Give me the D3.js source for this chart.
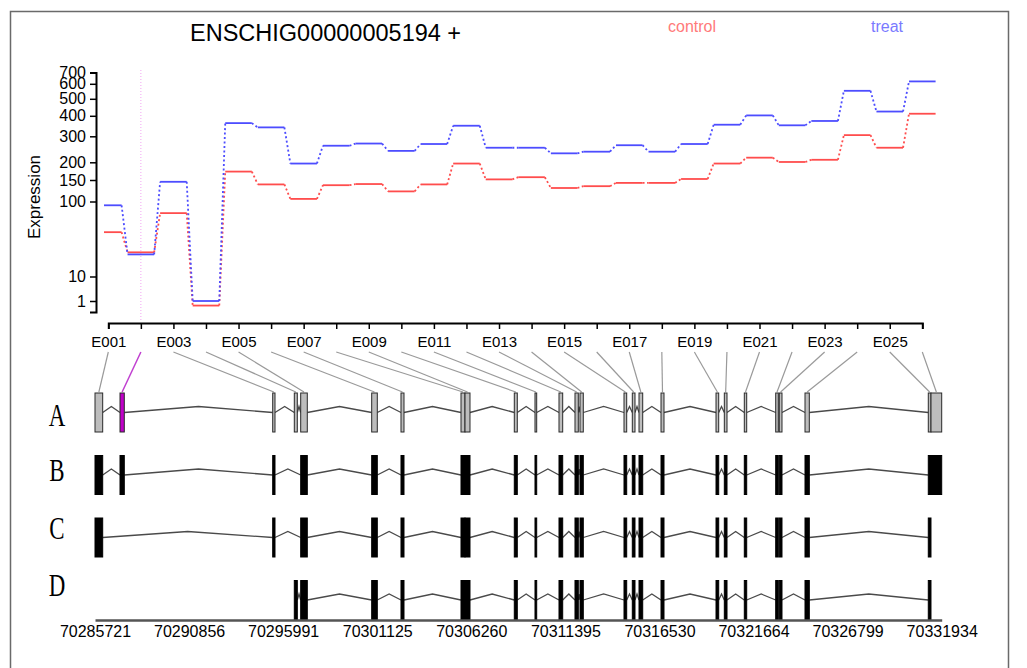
<!DOCTYPE html>
<html>
<head>
<meta charset="utf-8">
<script src="https://cdn.jsdelivr.net/npm/d3@7.9.0/dist/d3.min.js"></script>
<style>
  body { margin: 0; background: #fff; }
  svg { display: block; font-family: "Liberation Sans", Arial, sans-serif; }
</style>
</head>
<body>
<svg id="chart" width="1027" height="668"></svg>
<script>
// ---- data ----
const geneName = "ENSCHIG00000005194 +";
const conditions = ["control", "treat"];
const exonIds = ["E001","E002","E003","E004","E005","E006","E007","E008","E009","E010","E011","E012","E013",
                 "E014","E015","E016","E017","E018","E019","E020","E021","E022","E023","E024","E025","E026"];
const controlExpr = [39, 21, 70, 0.75, 172, 138, 105, 136, 139, 121, 138, 196, 151.5,
                     157, 129, 133.5, 142, 142, 152.5, 196, 215, 201, 208, 305, 251, 411];
const treatExpr = [89, 19.7, 145, 1.0, 361, 340, 196, 259, 268, 239, 266, 348, 251,
                   251, 230, 236, 261, 236, 266, 353, 402, 350, 372, 551, 423, 620];
const highlightExon = "E002";

// exon bin genomic coordinates
const exonStart = [70285721, 70287086, 70295420, 70296599, 70296948, 70300823, 70302422, 70305697, 70305916,
                   70308606, 70309736, 70311046, 70311919, 70312192, 70314594, 70315047, 70315413, 70316614,
                   70319616, 70320069, 70321160, 70322874, 70323070, 70324473, 70331202, 70331350];
const exonEnd = [70286141, 70287320, 70295545, 70296763, 70297308, 70301129, 70302586, 70305915, 70306188,
                 70308770, 70309829, 70311248, 70312100, 70312372, 70314741, 70315194, 70315615, 70316777,
                 70319763, 70320216, 70321291, 70323016, 70323217, 70324708, 70331349, 70331934];

// transcripts (exon bins they contain)
const trackNames = ["A", "B", "C", "D"];
const transcriptB = exonIds.filter(e => e !== "E004");
const transcriptC = exonIds.filter(e => !["E002", "E004", "E026"].includes(e));
const transcriptD = exonIds.filter(e => !["E001", "E002", "E003", "E026"].includes(e));

const yTicks = [1, 10, 100, 150, 200, 300, 400, 500, 600, 700];
const genomeTicks = [70285721, 70290856, 70295991, 70301125, 70306260,
                     70311395, 70316530, 70321664, 70326799, 70331934];

// ---- drawing ----
const colors = { control: "#ff4d4d", treat: "#4d4dff" };
const legendColors = { control: "#ff7a7a", treat: "#7a7aff" };

const svg = d3.select("#chart");

// frame
svg.append("path")
  .attr("d", "M10.5,700V11.5H1008.5V700")
  .attr("fill", "none")
  .attr("stroke", "#6a6a6a")
  .attr("stroke-width", 1.5);

// title + legend
svg.append("text")
  .attr("x", 190).attr("y", 41)
  .attr("font-size", 23.5)
  .text(geneName);

const legendX = { control: 692, treat: 887 };
conditions.forEach(c => {
  svg.append("text")
    .attr("x", legendX[c]).attr("y", 32)
    .attr("text-anchor", "middle")
    .attr("font-size", 16)
    .attr("fill", legendColors[c])
    .text(c);
});

// y scale: uneven axis, interpolated in log space between tick positions
const yKnots = [0.5, ...yTicks];
const yKnotPx = [312, 301, 276.5, 201.5, 180, 162.3, 136.3, 115.8, 98.8, 83.8, 72.6];
const yScale = d3.scaleLinear().domain(yKnots.map(Math.log10)).range(yKnotPx);
const y = v => yScale(Math.log10(v));

const x = d3.scalePoint().domain(exonIds).range([108.3, 922.3]);
const halfW = 13.3;

// y axis
const yAxis = svg.append("g")
  .attr("transform", "translate(96,0)")
  .call(d3.axisLeft(yScale)
    .tickValues(yTicks.map(Math.log10))
    .tickFormat(d => Math.round(Math.pow(10, d)))
    .tickSize(6)
    .tickPadding(4));
yAxis.select(".domain").attr("stroke-width", 2);
yAxis.selectAll(".tick line").attr("stroke-width", 1.5);
yAxis.selectAll("text").attr("font-size", 16).attr("fill", "#000").attr("font-family", "Liberation Sans, Arial, sans-serif");

svg.append("text")
  .attr("transform", "translate(40,197) rotate(-90)")
  .attr("text-anchor", "middle")
  .attr("font-size", 17)
  .text("Expression");

// x axis with exon bins
const xAxis = svg.append("g")
  .attr("transform", "translate(0,323)")
  .call(d3.axisBottom(x)
    .tickSize(6)
    .tickPadding(7)
    .tickFormat((d, i) => i % 2 === 0 ? d : ""));
xAxis.select(".domain").attr("stroke-width", 2);
xAxis.selectAll(".tick line").attr("stroke-width", 1.5);
xAxis.selectAll("text").attr("font-size", 15).attr("fill", "#000").attr("font-family", "Liberation Sans, Arial, sans-serif");

// highlighted bin marker
svg.append("line")
  .attr("x1", x(highlightExon)).attr("x2", x(highlightExon))
  .attr("y1", 70).attr("y2", 322)
  .attr("stroke", "#f2a6f2")
  .attr("stroke-width", 1)
  .attr("stroke-dasharray", "1,2");

// expression steps
svg.append("clipPath").attr("id", "plotClip")
  .append("rect").attr("x", 104).attr("y", 60).attr("width", 840).attr("height", 260);

const plot = svg.append("g").attr("clip-path", "url(#plotClip)");

const series = [
  { name: "control", values: controlExpr },
  { name: "treat", values: treatExpr }
];

series.forEach(s => {
  const pts = exonIds.map((id, i) => ({ id, v: s.values[i] }));
  plot.selectAll(null)
    .data(pts)
    .join("line")
    .attr("x1", d => x(d.id) - halfW)
    .attr("x2", d => x(d.id) + halfW)
    .attr("y1", d => y(d.v))
    .attr("y2", d => y(d.v))
    .attr("stroke", colors[s.name])
    .attr("stroke-width", 1.8);

  plot.selectAll(null)
    .data(d3.pairs(pts))
    .join("line")
    .attr("x1", d => x(d[0].id) + halfW)
    .attr("x2", d => x(d[1].id) - halfW)
    .attr("y1", d => y(d[0].v))
    .attr("y2", d => y(d[1].v))
    .attr("stroke", colors[s.name])
    .attr("stroke-width", 1.8)
    .attr("stroke-dasharray", "2,2.5");
});

// ---- gene model ----
const gx = d3.scaleLinear().domain([genomeTicks[0], genomeTicks[genomeTicks.length - 1]]).range([95, 941.7]);
const exonMid = i => (gx(exonStart[i]) + gx(exonEnd[i])) / 2;

// bin -> genome connectors
svg.append("g").selectAll("line")
  .data(exonIds)
  .join("line")
  .attr("x1", d => x(d))
  .attr("y1", 352)
  .attr("x2", (d, i) => exonMid(i))
  .attr("y2", 392)
  .attr("stroke", d => d === highlightExon ? "#c040d0" : "#9a9a9a")
  .attr("stroke-width", d => d === highlightExon ? 1.5 : 1.2);

const rowTop = [393, 455.5, 518, 580.5];
const rowH = 39;
const tracks = [exonIds, transcriptB, transcriptC, transcriptD];
const rowLabelY = [425.5, 481, 538.5, 596];

tracks.forEach((ids, r) => {
  const idx = ids.map(id => exonIds.indexOf(id));
  const mid = rowTop[r] + rowH / 2;
  const g = svg.append("g");

  // introns
  g.selectAll("polyline")
    .data(d3.pairs(idx).filter(([a, b]) => gx(exonStart[b]) - gx(exonEnd[a]) > 1.2))
    .join("polyline")
    .attr("points", ([a, b]) => {
      const x1 = gx(exonEnd[a]), x2 = gx(exonStart[b]);
      return `${x1},${mid} ${(x1 + x2) / 2},${mid - 6} ${x2},${mid}`;
    })
    .attr("fill", "none")
    .attr("stroke", "#4a4a4a")
    .attr("stroke-width", 1.3);

  // exons
  g.selectAll("rect")
    .data(idx)
    .join("rect")
    .attr("x", i => gx(exonStart[i]))
    .attr("y", rowTop[r])
    .attr("width", i => Math.max(1, gx(exonEnd[i]) - gx(exonStart[i])))
    .attr("height", rowH)
    .attr("fill", i => r > 0 ? "#000" : (exonIds[i] === highlightExon ? "#c000c8" : "#bdbdbd"))
    .attr("stroke", r > 0 ? "#000" : "#2a2a2a")
    .attr("stroke-width", 1);

  svg.append("text")
    .attr("transform", `translate(57,${rowLabelY[r]}) scale(0.74,1)`)
    .attr("text-anchor", "middle")
    .attr("font-family", "Liberation Serif, Times New Roman, serif")
    .attr("font-size", 31)
    .text(trackNames[r]);
});

// genomic axis
const gAxis = svg.append("g")
  .attr("transform", "translate(0,620)")
  .call(d3.axisBottom(gx)
    .tickValues(genomeTicks)
    .tickSize(0)
    .tickPadding(6)
    .tickFormat(d3.format("d")));
gAxis.select(".domain").attr("stroke", "#555").attr("stroke-width", 2.5);
gAxis.selectAll("text").attr("font-size", 16).attr("fill", "#000").attr("font-family", "Liberation Sans, Arial, sans-serif");
</script>
</body>
</html>
